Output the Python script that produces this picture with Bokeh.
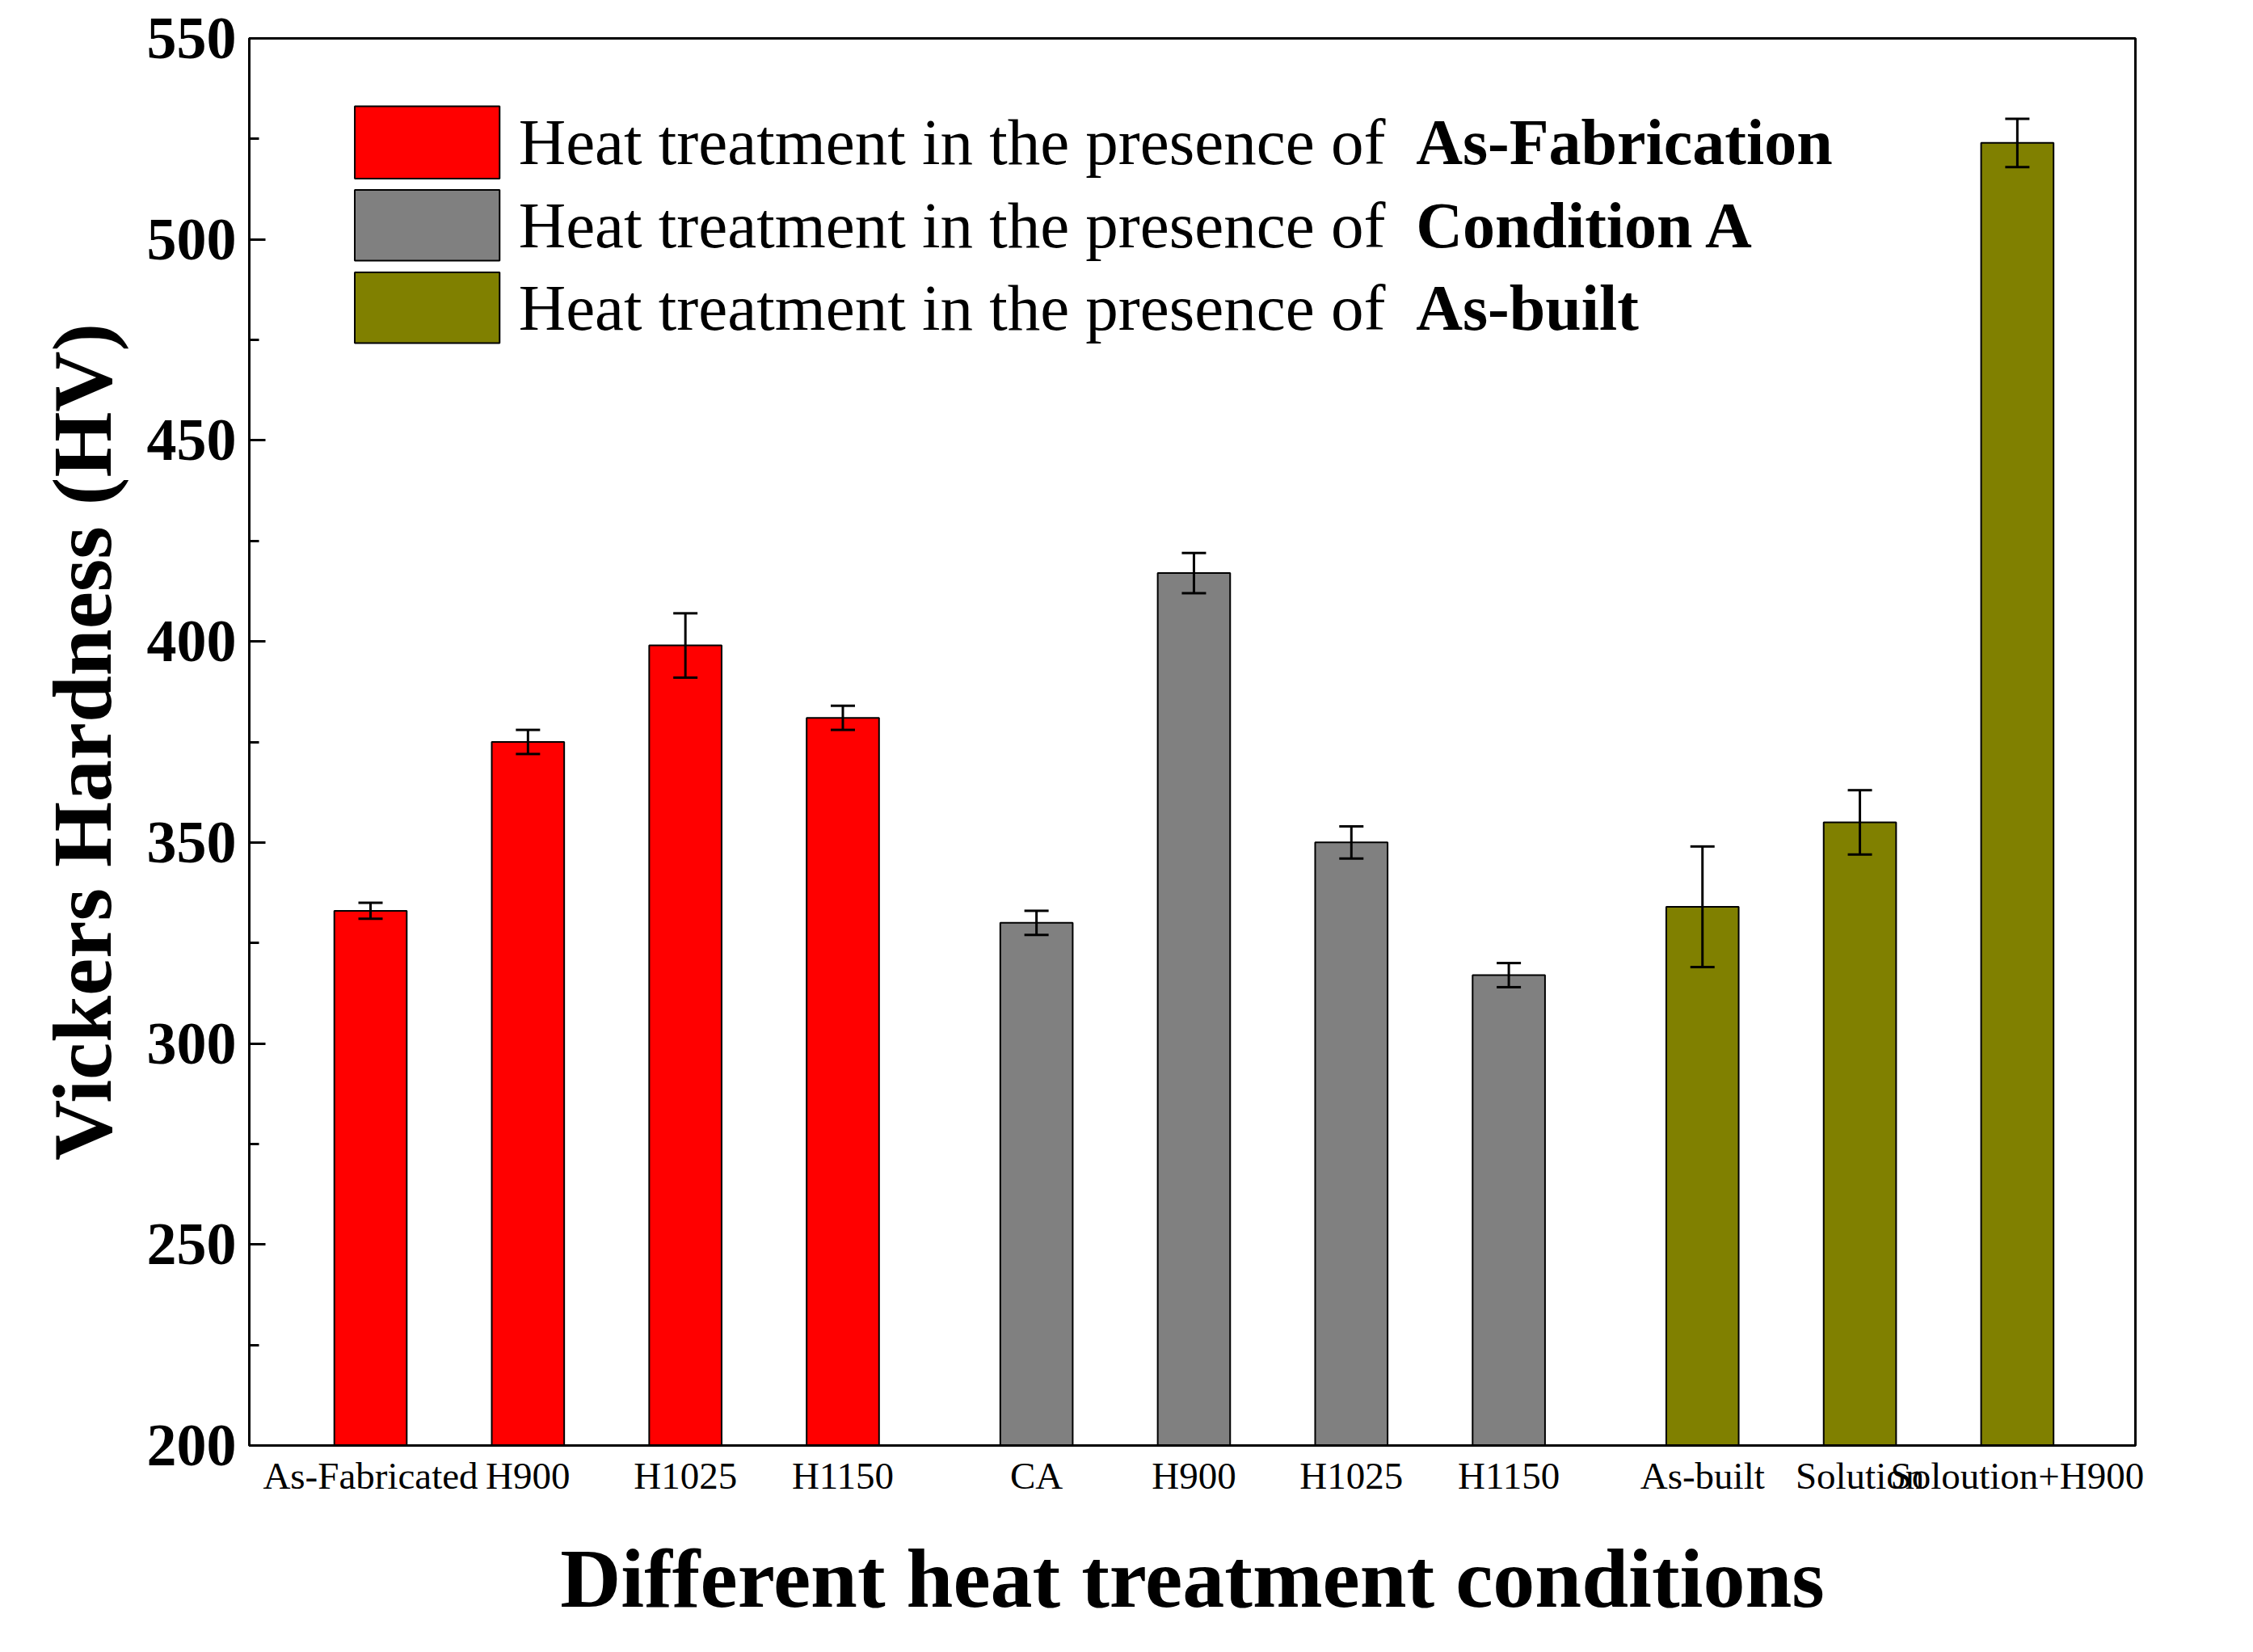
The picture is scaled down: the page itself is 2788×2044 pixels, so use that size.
from bokeh.plotting import figure
from bokeh.models import ColumnDataSource, Whisker, FixedTicker, Range1d, Label
from bokeh.embed import file_html
from bokeh.resources import INLINE

labels = ["As-Fabricated","H900","H1025","H1150","CA","H900","H1025","H1150","As-built","Solution","Soloution+H900"]
xpos = [1,2,3,4,5.23,6.23,7.23,8.23,9.46,10.46,11.46]
values = [333,375,399,381,330,417,350,317,334,355,524]
errors = [2,3,8,3,3,5,4,3,15,8,6]
colors = ["#ff0000"]*4 + ["#808080"]*4 + ["#808000"]*3
legend_texts = ["As-Fabrication","Condition A","As-built"]
legend_colors = ["#ff0000","#808080","#808000"]

W, H = 2770, 2020
p = figure(width=W, height=H, output_backend="svg", toolbar_location=None,
           x_range=Range1d(0.23, 12.21), y_range=Range1d(200, 550),
           min_border_left=308, min_border_right=128, min_border_top=47, min_border_bottom=232)
p.grid.visible = False
p.outline_line_color = "black"; p.outline_line_width = 3
p.background_fill_color = "white"

src = ColumnDataSource(dict(x=xpos, top=values, c=colors,
                            lo=[v-e for v, e in zip(values, errors)],
                            hi=[v+e for v, e in zip(values, errors)]))
p.vbar(x="x", top="top", bottom=200, width=0.46, fill_color="c", line_color="black", line_width=2, source=src)
w = Whisker(base="x", lower="lo", upper="hi", source=src, line_width=3, line_color="black", level="overlay")
w.upper_head.size = 30; w.lower_head.size = 30
w.upper_head.line_width = 3; w.lower_head.line_width = 3
p.add_layout(w)

font = "Liberation Serif"
p.axis.major_label_text_color = "black"
p.axis.axis_label_text_color = "black"
p.xaxis.ticker = FixedTicker(ticks=xpos)
p.xaxis.major_label_overrides = {x: l for x, l in zip(xpos, labels)}
p.xaxis.major_label_text_font = font
p.xaxis.major_label_text_font_size = "47px"
p.xaxis.major_tick_line_color = None
p.xaxis.minor_tick_line_color = None
p.xaxis.axis_line_width = 3
p.xaxis.axis_label = "Different heat treatment conditions"
p.xaxis.axis_label_text_font = font
p.xaxis.axis_label_text_font_size = "104px"
p.xaxis.axis_label_text_font_style = "bold"
p.xaxis.axis_label_standoff = 40

p.yaxis.ticker = FixedTicker(ticks=list(range(200, 551, 50)), minor_ticks=list(range(200, 551, 25)))
p.yaxis.major_label_text_font = font
p.yaxis.major_label_text_font_size = "74px"
p.yaxis.major_label_text_font_style = "bold"
p.yaxis.major_label_standoff = 16
p.yaxis.major_tick_in = 20; p.yaxis.major_tick_out = 0
p.yaxis.minor_tick_in = 12; p.yaxis.minor_tick_out = 0
p.yaxis.major_tick_line_width = 3; p.yaxis.minor_tick_line_width = 3
p.yaxis.axis_line_width = 3
p.yaxis.axis_label = "Vickers Hardness (HV)"
p.yaxis.axis_label_text_font = font
p.yaxis.axis_label_text_font_size = "104px"
p.yaxis.axis_label_text_font_style = "bold"
p.yaxis.axis_label_standoff = 20

# legend
box_top = [533.1, 512.3, 491.8]
box_bot = [515.1, 494.7, 474.2]
p.quad(left=0.90, right=1.82, top=box_top, bottom=box_bot, fill_color=legend_colors, line_color="black", line_width=2)
for t, b, txt in zip(box_top, box_bot, legend_texts):
    yc = (t + b) / 2
    p.add_layout(Label(x=1.94, y=yc, text="Heat treatment in the presence of ", text_font=font,
                       text_font_size="81px", text_baseline="middle", text_color="black"))
    p.add_layout(Label(x=7.64, y=yc, text=txt, text_font=font, text_font_style="bold",
                       text_font_size="80px", text_baseline="middle", text_color="black"))

open("out.html", "w").write(file_html(p, INLINE))
